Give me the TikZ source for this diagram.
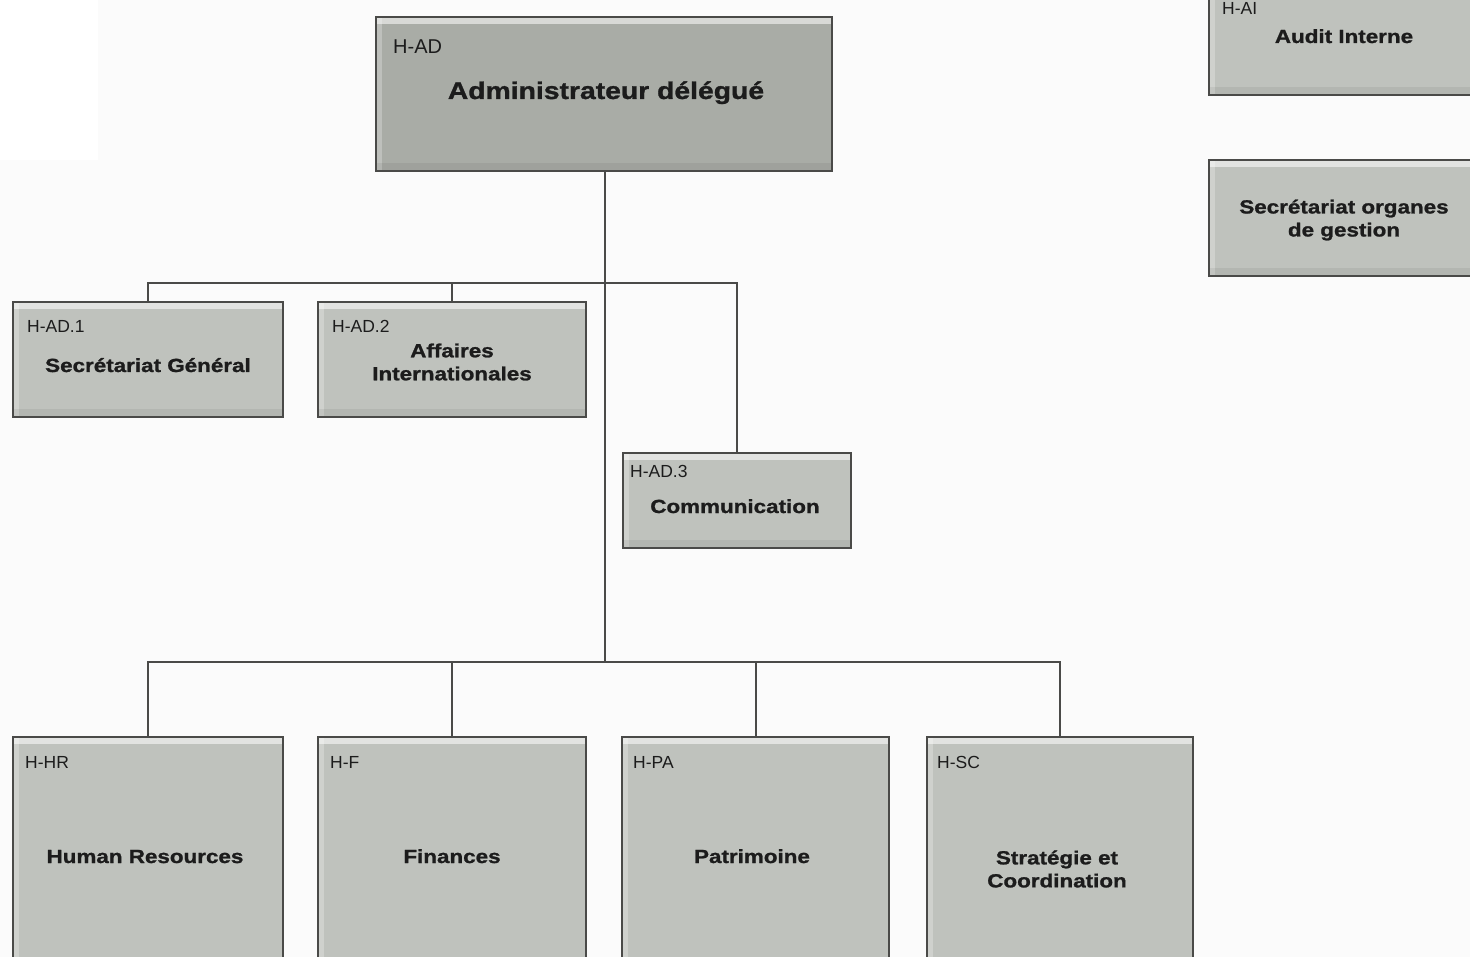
\documentclass[tikz,border=0pt]{standalone}
\usepackage{fontspec}
\setmainfont{Liberation Sans}
\newfontfamily\headfont[FakeStretch=1.18, BoldFeatures={FakeBold=1.2}]{Liberation Sans}
\usetikzlibrary{calc}

\definecolor{paper}{HTML}{FBFBFB}
\definecolor{unitfill}{HTML}{BFC2BD}
\definecolor{headfill}{HTML}{A9ACA6}
\definecolor{edge}{HTML}{4A4A48}
\definecolor{ink}{HTML}{1C1C1C}

\tikzset{
  unit/.style={rectangle, inner sep=0pt, fill=unitfill, draw=edge, line width=2pt,
    path picture={
      \fill[white, opacity=0.55] (path picture bounding box.north west)
        rectangle ([yshift=-7pt]path picture bounding box.north east);
      \fill[white, opacity=0.25] (path picture bounding box.north west)
        rectangle ([xshift=6pt]path picture bounding box.south west);
      \fill[black, opacity=0.06] (path picture bounding box.south west)
        rectangle ([yshift=8pt]path picture bounding box.south east);
    }},
  idlab/.style={inner sep=0pt, text=ink, font=\fontsize{17.5}{20}\selectfont},
  title/.style={inner sep=0pt, text=ink, align=center,
    font=\headfont\bfseries\fontsize{19}{23}\selectfont},
  wire/.style={draw=edge, line width=2pt}
}

\begin{document}
\begin{tikzpicture}[x=1pt, y=-1pt]
  \useasboundingbox (0,0) rectangle (1470,957);
  \clip (0,0) rectangle (1470,957);
  \fill[paper] (0,0) rectangle (1470,957);
  \fill[white] (0,0) rectangle (98,160);

  % head of the organisation
  \node[unit, fill=headfill, minimum width=456pt, minimum height=154pt] (AD) at (604,94) {};
  % staff units
  \node[unit, minimum width=270pt, minimum height=115pt] (AD1) at (148,359.5) {};
  \node[unit, minimum width=268pt, minimum height=115pt] (AD2) at (452,359.5) {};
  \node[unit, minimum width=228pt, minimum height=95pt]  (AD3) at (737,500.5) {};
  % departments (run past the lower edge)
  \node[unit, minimum width=270pt, minimum height=250pt] (HR) at (148,862) {};
  \node[unit, minimum width=268pt, minimum height=250pt] (F)  at (452,862) {};
  \node[unit, minimum width=267pt, minimum height=250pt] (PA) at (755.5,862) {};
  \node[unit, minimum width=266pt, minimum height=250pt] (SC) at (1060,862) {};
  % independent units on the right (run past the right edge)
  \node[unit, minimum width=272pt, minimum height=130pt] (AI) at (1345,30) {};
  \node[unit, minimum width=272pt, minimum height=116pt] (SO) at (1345,218) {};

  % codes
  \node[idlab, font=\fontsize{20}{24}\selectfont, anchor=base west] (AD-id) at (393,54) {H-AD};
  \node[idlab, anchor=base west] (AD1-id) at (27,333) {H-AD.1};
  \node[idlab, anchor=base west] (AD2-id) at (332,333) {H-AD.2};
  \node[idlab, anchor=base west] (AD3-id) at (630,477) {H-AD.3};
  \node[idlab, anchor=base west] (HR-id) at (25,768) {H-HR};
  \node[idlab, anchor=base west] (F-id)  at (330,768) {H-F};
  \node[idlab, anchor=base west] (PA-id) at (633,768) {H-PA};
  \node[idlab, anchor=base west] (SC-id) at (937,768) {H-SC};
  \node[idlab, anchor=base west] (AI-id) at (1222,15) {H-AI};

  % names
  \node[title, font=\headfont\bfseries\fontsize{24}{28}\selectfont, anchor=base] (AD-name) at (606,99) {Administrateur délégué};
  \node[title, anchor=base] (AD1-name) at (148,372) {Secrétariat Général};
  \node[title] (AD2-name) at (452,362) {Affaires\\Internationales};
  \node[title, anchor=base] (AD3-name) at (735,513) {Communication};
  \node[title, anchor=base] (HR-name) at (145,863) {Human Resources};
  \node[title, anchor=base] (F-name)  at (452,863) {Finances};
  \node[title, anchor=base] (PA-name) at (752,863) {Patrimoine};
  \node[title] (SC-name) at (1057,869) {Stratégie et\\Coordination};
  \node[title, anchor=base] (AI-name) at (1344,43) {Audit Interne};
  \node[title] (SO-name) at (1344,220) {Secrétariat organes\\de gestion};

  % junctions of the two distribution bars
  \coordinate (upper) at (605,283);
  \coordinate (lower) at (605,662);

  % connectors
  \draw[wire] (AD.south -| lower) -- (lower);
  \draw[wire] (AD1.north) -- (AD1.north |- upper) -- (AD3.north |- upper) -- (AD3.north);
  \draw[wire] (AD2.north) -- (AD2.north |- upper);
  \draw[wire] (HR.north) -- (HR.north |- lower) -- (SC.north |- lower) -- (SC.north);
  \draw[wire] (F.north) -- (F.north |- lower);
  \draw[wire] (PA.north) -- (PA.north |- lower);
\end{tikzpicture}
\end{document}
